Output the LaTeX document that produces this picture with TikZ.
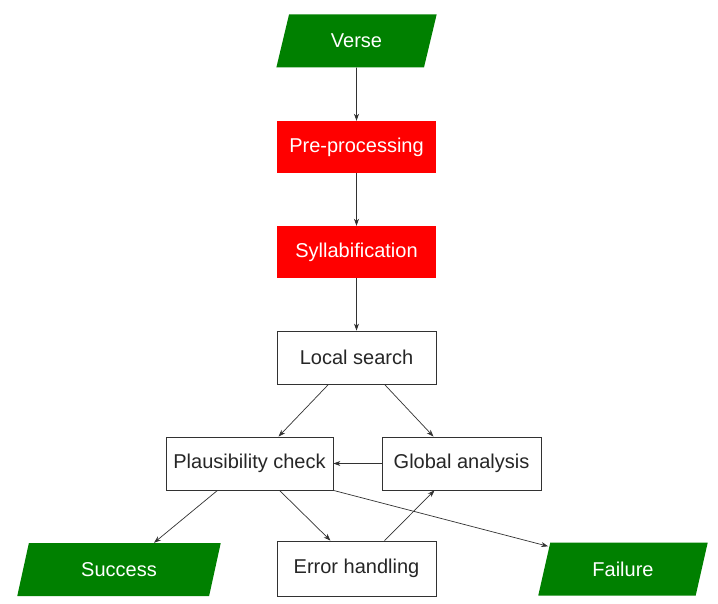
\documentclass[tikz,border=0pt]{standalone}
\usepackage{fontspec}
\setmainfont{Liberation Sans}
\usetikzlibrary{shapes.geometric,arrows.meta,calc}
\definecolor{fgreen}{RGB}{0,128,0}
\definecolor{fred}{RGB}{255,0,0}
\definecolor{edgec}{RGB}{50,50,50}
\begin{document}
\begin{tikzpicture}[x=1pt,y=-1pt,
  font=\fontsize{20}{24}\selectfont,
  box/.style={draw=edgec, line width=0.8pt, minimum width=159pt, minimum height=53pt, inner sep=0pt, fill=white, text=black!85},
  redbox/.style={fill=fred, text=white, minimum width=159pt, minimum height=52pt, inner sep=0pt},
  io/.style={trapezium, trapezium left angle=71, trapezium right angle=109, trapezium stretches=true, fill=fgreen, text=white, minimum height=53pt, inner sep=0pt},
  arr/.style={draw=edgec, line width=0.7pt, -{Stealth[length=7pt,width=5pt]}}]
\useasboundingbox[fill=white] (0,0) rectangle (718,604);
\node[io, minimum width=161pt] (verse) at (356.5,41) {Verse};
\node[redbox] (pre) at (356.5,147) {Pre-processing};
\node[redbox] (syl) at (356.5,252) {Syllabification};
\node[box] (loc) at (356.5,357.5) {Local search};
\node[box, minimum width=167pt] (pla) at (249.5,463.5) {Plausibility check};
\node[box] (glo) at (461.5,463.5) {Global analysis};
\node[io, minimum width=204pt] (suc) at (119,569.5) {Success};
\node[box, minimum height=55pt] (err) at (356.5,568.5) {Error handling};
\node[io, minimum width=170pt] (fai) at (623,569) {Failure};
\draw[arr] (verse.south) -- (pre.north);
\draw[arr] (pre.south) -- (syl.north);
\draw[arr] (syl.south) -- (loc.north);
\draw[arr] ([xshift=-28pt]loc.south) -- ([xshift=29pt]pla.north);
\draw[arr] ([xshift=28pt]loc.south) -- ([xshift=-28pt]glo.north);
\draw[arr] (glo.west) -- (pla.east);
\draw[arr] ([xshift=-32pt]pla.south) -- ([xshift=35pt]suc.north);
\draw[arr] ([xshift=30pt]pla.south) -- ([xshift=-26pt]err.north);
\draw[arr] ([xshift=28pt]err.north) -- ([xshift=-27pt]glo.south);
\draw[arr] (pla.south east) -- ([shift={(-2pt,-4pt)}]fai.top left corner);
\end{tikzpicture}
\end{document}
